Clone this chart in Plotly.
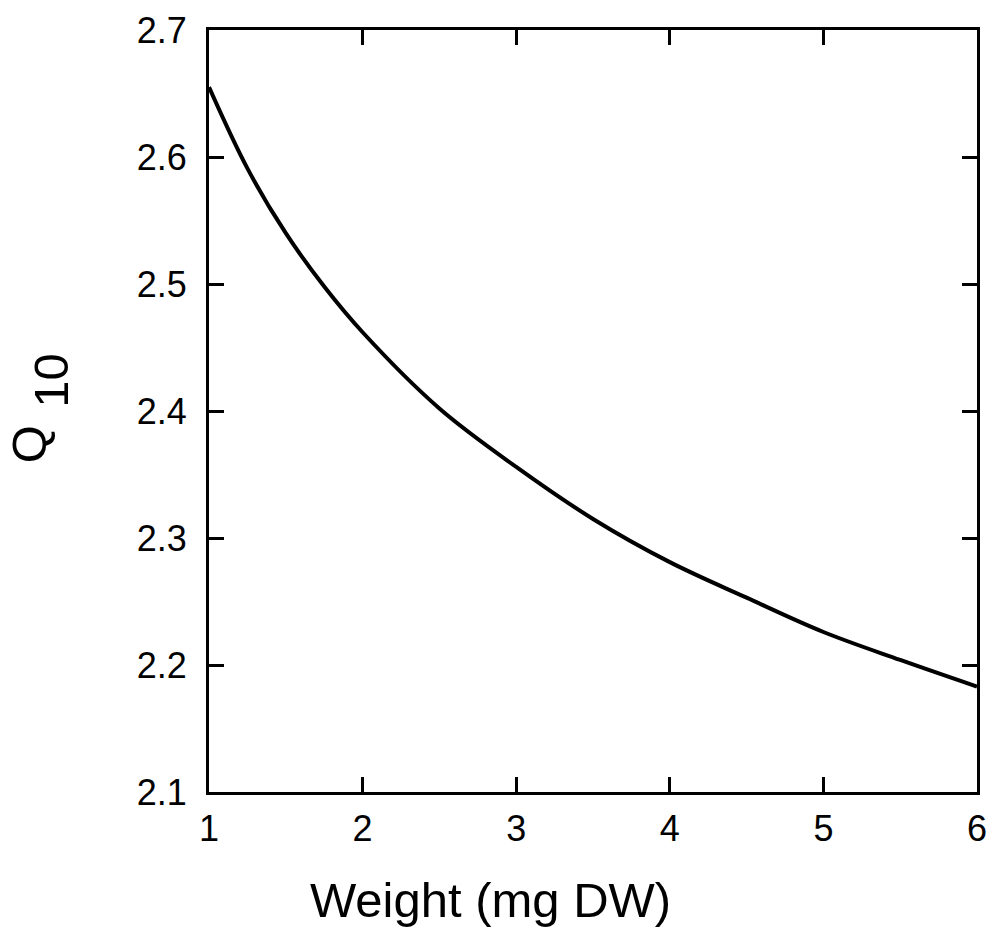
import plotly.graph_objects as go

# Q10 as a function of body weight
weight_mg = [1.0, 1.25, 1.5, 1.75, 2.0, 2.5, 3.0, 3.5, 4.0, 4.5, 5.0, 5.5, 6.0]
q10 = [2.655, 2.591, 2.540, 2.498, 2.462, 2.402, 2.356, 2.315, 2.281, 2.253, 2.226, 2.204, 2.183]

x_ticks = [1, 2, 3, 4, 5, 6]
y_ticks = [2.1, 2.2, 2.3, 2.4, 2.5, 2.6, 2.7]
y_tick_text = ["2.1", "2.2", "2.3", "2.4", "2.5", "2.6", "2.7"]

tick_font = dict(family="Liberation Sans, Arial, sans-serif", size=36, color="black")
title_font = dict(family="Liberation Sans, Arial, sans-serif", size=49, color="black")

fig = go.Figure()
fig.add_trace(go.Scatter(
    x=weight_mg, y=q10, mode="lines",
    line=dict(color="black", width=4, shape="spline", smoothing=1.0),
    showlegend=False, hoverinfo="skip",
))

axis_common = dict(
    showline=True, linecolor="black", linewidth=3.2, mirror="ticks",
    ticks="inside", ticklen=15, tickwidth=2.8, tickcolor="black",
    showgrid=False, zeroline=False, tickfont=tick_font, automargin=False,
)

fig.update_xaxes(range=[1, 6], tickvals=x_ticks, ticklabelstandoff=3, **axis_common)
fig.update_yaxes(range=[2.1, 2.7], tickvals=y_ticks, ticktext=y_tick_text,
                 ticklabelstandoff=12, **axis_common)

fig.add_annotation(text="Weight (mg DW)", xref="paper", yref="paper",
                   x=0.366, y=-0.1417, xanchor="center", yanchor="middle",
                   showarrow=False, font=title_font)
fig.add_annotation(text="Q", xref="paper", yref="paper",
                   x=-0.2340, y=0.4567, xanchor="center", yanchor="middle",
                   textangle=-90, showarrow=False, font=title_font)
fig.add_annotation(text="10", xref="paper", yref="paper",
                   x=-0.2060, y=0.5407, xanchor="center", yanchor="middle",
                   textangle=-90, showarrow=False, font=title_font)

fig.update_layout(
    width=988, height=932,
    margin=dict(l=209, r=11, t=30, b=140),
    paper_bgcolor="white", plot_bgcolor="white",
)

fig.write_html("out.html")
